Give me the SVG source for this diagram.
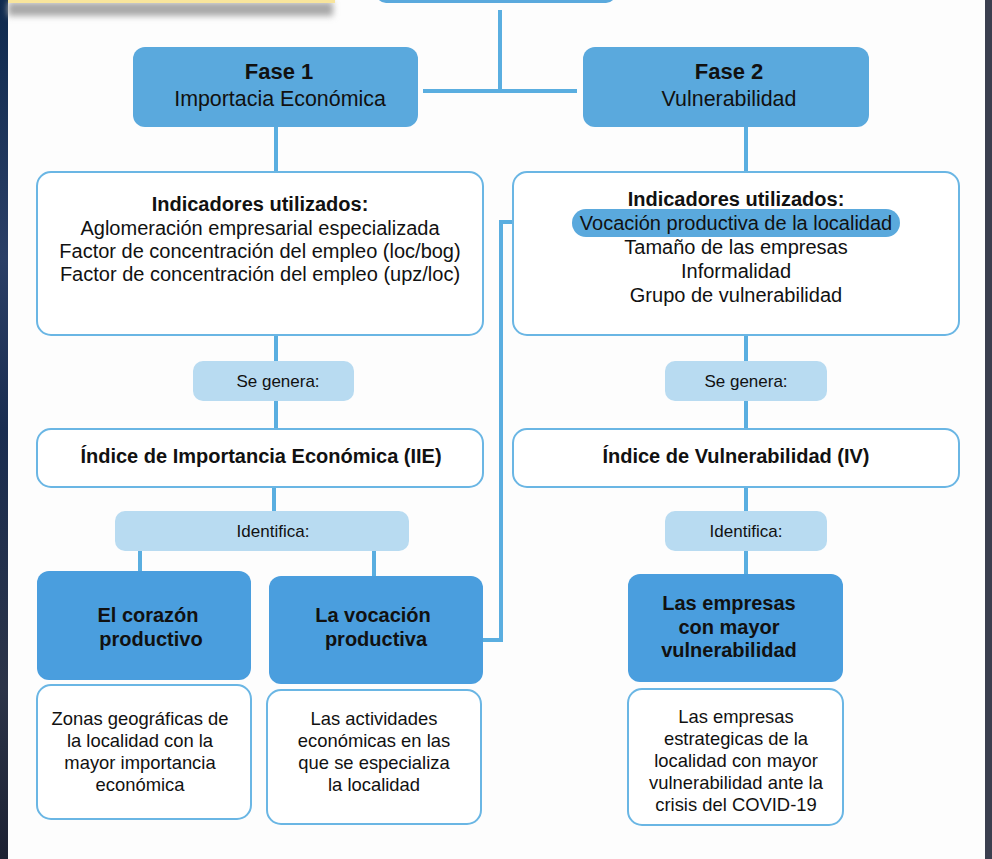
<svg xmlns="http://www.w3.org/2000/svg" width="992" height="859" viewBox="0 0 992 859">
<defs>
<linearGradient id="leftbg" x1="0" y1="0" x2="0" y2="1">
<stop offset="0" stop-color="#0f2a4e"/>
<stop offset="0.3" stop-color="#2b3f66"/>
<stop offset="0.5" stop-color="#1a2d50"/>
<stop offset="0.8" stop-color="#2c3448"/>
<stop offset="1" stop-color="#1d2233"/>
</linearGradient>
<filter id="blur" x="-10%" y="-100%" width="120%" height="300%">
<feGaussianBlur stdDeviation="3"/>
</filter>
<style>
text{font-family:"Liberation Sans",Arial,sans-serif;fill:#111;text-anchor:middle}
.b{font-weight:bold}
.t20{font-size:20px}
.t18{font-size:18.4px}
.t17{font-size:17px}
.phase{fill:#5aa9dd}
.res{fill:#4a9ede}
.box{fill:#fff;stroke:#6ab6e4;stroke-width:2}
.pill{fill:#b8dbf1}
.ln{stroke:#5aaee0;stroke-width:4;fill:none}
</style>
</defs>
<rect x="0" y="0" width="992" height="859" fill="#fdfdfd"/>
<rect x="0" y="0" width="8" height="859" fill="url(#leftbg)"/>
<rect x="985" y="0" width="7" height="859" fill="#3b3f4f"/>
<rect x="8" y="2" width="325" height="14" fill="#a9a9a9" filter="url(#blur)"/>
<rect x="8" y="0" width="327" height="3" fill="#f8e59c"/>

<g id="connectors">
<line class="ln" x1="500" y1="10" x2="500" y2="91"/>
<line class="ln" x1="423" y1="91" x2="577" y2="91"/>
<line class="ln" x1="276" y1="127" x2="276" y2="172"/>
<line class="ln" x1="746" y1="127" x2="746" y2="172"/>
<line class="ln" x1="276" y1="335" x2="276" y2="361"/>
<line class="ln" x1="746" y1="335" x2="746" y2="361"/>
<line class="ln" x1="276" y1="401" x2="276" y2="429"/>
<line class="ln" x1="746" y1="401" x2="746" y2="429"/>
<line class="ln" x1="274" y1="487" x2="274" y2="511"/>
<line class="ln" x1="746" y1="487" x2="746" y2="511"/>
<line class="ln" x1="140" y1="551" x2="140" y2="572"/>
<line class="ln" x1="374" y1="551" x2="374" y2="577"/>
<line class="ln" x1="746" y1="551" x2="746" y2="575"/>
<polyline class="ln" points="575,222 501,222 501,640 483,640"/>
</g>

<g id="top">
<rect class="phase" x="376" y="-40" width="240" height="43" rx="10"/>
</g>

<g id="fase1">
<rect class="phase" x="133" y="47" width="285" height="80" rx="12"/>
<text class="b" x="279" y="79" font-size="22">Fase 1</text>
<text x="280" y="106" font-size="21.4">Importacia Económica</text>
</g>

<g id="fase2">
<rect class="phase" x="583" y="47" width="286" height="80" rx="12"/>
<text class="b" x="729" y="79" font-size="22">Fase 2</text>
<text x="729" y="106" font-size="21.4">Vulnerabilidad</text>
</g>

<g id="ind1">
<rect class="box" x="37" y="172" width="446" height="163" rx="14"/>
<text class="b t20" x="260" y="211">Indicadores utilizados:</text>
<text class="t20" x="260" y="235">Aglomeración empresarial especializada</text>
<text class="t20" x="260" y="258">Factor de concentración del empleo (loc/bog)</text>
<text class="t20" x="260" y="281">Factor de concentración del empleo (upz/loc)</text>
</g>

<g id="ind2">
<rect class="box" x="513" y="172" width="446" height="163" rx="14"/>
<text class="b t20" x="736" y="206">Indicadores utilizados:</text>
<rect class="phase" x="572" y="209" width="328" height="28" rx="14"/>
<text class="t20" x="736" y="230">Vocación productiva de la localidad</text>
<text class="t20" x="736" y="254">Tamaño de las empresas</text>
<text class="t20" x="736" y="278">Informalidad</text>
<text class="t20" x="736" y="302">Grupo de vulnerabilidad</text>
</g>

<g id="gen1">
<rect class="pill" x="193" y="361" width="161" height="40" rx="10"/>
<text class="t17" x="278" y="387">Se genera:</text>
</g>
<g id="gen2">
<rect class="pill" x="665" y="361" width="162" height="40" rx="10"/>
<text class="t17" x="746" y="387">Se genera:</text>
</g>

<g id="iie">
<rect class="box" x="37" y="429" width="446" height="58" rx="14"/>
<text class="b t20" x="261" y="463">Índice de Importancia Económica (IIE)</text>
</g>
<g id="iv">
<rect class="box" x="513" y="429" width="446" height="58" rx="14"/>
<text class="b t20" x="736" y="463">Índice de Vulnerabilidad (IV)</text>
</g>

<g id="id1">
<rect class="pill" x="115" y="511" width="294" height="40" rx="10"/>
<text class="t17" x="273" y="537">Identifica:</text>
</g>
<g id="id2">
<rect class="pill" x="665" y="511" width="162" height="40" rx="10"/>
<text class="t17" x="746" y="537">Identifica:</text>
</g>

<g id="corazon">
<rect class="res" x="37" y="571" width="214" height="109" rx="12"/>
<text class="b t20" x="148" y="622">El corazón</text>
<text class="b t20" x="151" y="646">productivo</text>
</g>
<g id="vocacion">
<rect class="res" x="269" y="576" width="214" height="108" rx="12"/>
<text class="b t20" x="373" y="622">La vocación</text>
<text class="b t20" x="376" y="646">productiva</text>
</g>
<g id="empresas">
<rect class="res" x="628" y="574" width="215" height="108" rx="12"/>
<text class="b t20" x="729" y="610">Las empresas</text>
<text class="b t20" x="729" y="634">con mayor</text>
<text class="b t20" x="729" y="657">vulnerabilidad</text>
</g>

<g id="desc1">
<rect class="box" x="37" y="685" width="214" height="134" rx="14"/>
<text class="t18" x="140" y="725">Zonas geográficas de</text>
<text class="t18" x="140" y="747">la localidad con la</text>
<text class="t18" x="140" y="769">mayor importancia</text>
<text class="t18" x="140" y="791">económica</text>
</g>
<g id="desc2">
<rect class="box" x="267" y="690" width="214" height="134" rx="14"/>
<text class="t18" x="374" y="725">Las actividades</text>
<text class="t18" x="374" y="747">económicas en las</text>
<text class="t18" x="374" y="769">que se especializa</text>
<text class="t18" x="374" y="791">la localidad</text>
</g>
<g id="desc3">
<rect class="box" x="628" y="689" width="215" height="136" rx="14"/>
<text class="t18" x="736" y="723">Las empresas</text>
<text class="t18" x="736" y="745">estrategicas de la</text>
<text class="t18" x="736" y="767">localidad con mayor</text>
<text class="t18" x="736" y="789">vulnerabilidad ante la</text>
<text class="t18" x="736" y="811">crisis del COVID-19</text>
</g>
</svg>
